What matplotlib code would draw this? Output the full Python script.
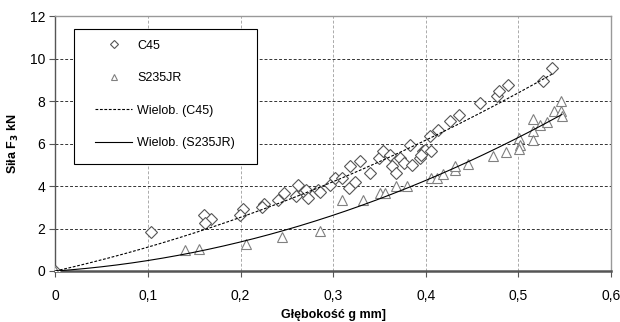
import numpy as np
import matplotlib.pyplot as plt
from matplotlib.patches import Rectangle
from matplotlib.ticker import FuncFormatter

plt.rcParams["font.family"] = ["Liberation Sans", "DejaVu Sans"]

# C45 measurements (depth g [mm], force F3 [kN])
c45_g = [0.0, 0.103, 0.160, 0.168, 0.162, 0.202, 0.199, 0.225, 0.223, 0.240,
         0.247, 0.262, 0.260, 0.268, 0.271, 0.273, 0.283, 0.286, 0.296, 0.302,
         0.309, 0.318, 0.317, 0.323, 0.329, 0.340, 0.349, 0.354, 0.361, 0.363,
         0.368, 0.372, 0.376, 0.383, 0.385, 0.394, 0.397, 0.404, 0.399, 0.406,
         0.395, 0.413, 0.426, 0.436, 0.458, 0.477, 0.479, 0.489, 0.527, 0.536]
c45_f = [0.0, 1.85, 2.64, 2.44, 2.25, 2.91, 2.64, 3.16, 3.00, 3.35,
         3.66, 4.03, 3.55, 3.74, 3.79, 3.43, 3.79, 3.74, 4.06, 4.37,
         4.37, 4.92, 3.90, 4.21, 5.16, 4.61, 5.32, 5.63, 5.47, 4.92,
         4.61, 5.32, 5.08, 5.94, 5.00, 5.32, 5.63, 6.34, 5.71, 5.63,
         5.47, 6.65, 7.04, 7.36, 7.91, 8.22, 8.46, 8.77, 8.93, 9.56]

# S235JR measurements
s235_g = [0.0, 0.140, 0.155, 0.206, 0.245, 0.286, 0.309, 0.332, 0.350, 0.356,
          0.368, 0.380, 0.406, 0.412, 0.419, 0.431, 0.431, 0.446, 0.473, 0.487,
          0.501, 0.502, 0.501, 0.516, 0.516, 0.516, 0.523, 0.531, 0.538, 0.546,
          0.546, 0.547]
s235_f = [0.0, 0.99, 1.02, 1.27, 1.59, 1.89, 3.32, 3.32, 3.69, 3.69,
          4.00, 4.00, 4.37, 4.37, 4.58, 4.76, 4.92, 5.05, 5.42, 5.58,
          6.26, 5.94, 5.74, 7.16, 6.57, 6.18, 6.85, 7.00, 7.51, 8.02,
          7.51, 7.31]

x_ticks = [0, 0.1, 0.2, 0.3, 0.4, 0.5, 0.6]
y_ticks = [0, 2, 4, 6, 8, 10, 12]

fig = plt.figure(figsize=(6.2, 3.22), dpi=100)
ax = fig.add_axes([0.0895, 0.1584, 0.896, 0.7916])

ax.plot(c45_g, c45_f, linestyle="none", marker="D", markersize=6,
        markerfacecolor="white", markeredgecolor="#555555", markeredgewidth=0.8,
        label="C45", zorder=3)
ax.plot(s235_g, s235_f, linestyle="none", marker="^", markersize=7,
        markerfacecolor="white", markeredgecolor="#808080", markeredgewidth=0.8,
        label="S235JR", zorder=3)


def poly_trend(g, f):
    # 2nd order polynomial trend with intercept fixed at zero
    g = np.asarray(g)
    A = np.column_stack([g ** 2, g])
    coef, *_ = np.linalg.lstsq(A, np.asarray(f), rcond=None)
    xs = np.linspace(0, g.max(), 200)
    return xs, coef[0] * xs ** 2 + coef[1] * xs


for g, f, ls, lab in [(c45_g, c45_f, (0, (2.5, 1.5)), "Wielob. (C45)"),
                      (s235_g, s235_f, "-", "Wielob. (S235JR)")]:
    xs, ys = poly_trend(g, f)
    ax.plot(xs, ys, color="black", linestyle=ls, linewidth=0.8, label=lab,
            zorder=4)

ax.set_xlim(0, 0.6)
ax.set_ylim(0, 12)
ax.set_xticks(x_ticks)
ax.set_yticks(y_ticks)
comma = FuncFormatter(lambda v, p: ("%g" % v).replace(".", ","))
ax.xaxis.set_major_formatter(comma)
ax.yaxis.set_major_formatter(comma)
ax.tick_params(axis="both", labelsize=10, length=4, width=0.8, color="#555555",
               direction="out")
ax.tick_params(axis="x", pad=9)

ax.yaxis.grid(True, linestyle=(0, (3, 2)), color="#333333", linewidth=0.7)
ax.xaxis.grid(True, linestyle=(0, (3, 2)), color="#aaaaaa", linewidth=0.7)
ax.set_axisbelow(True)

for s in ["top", "right"]:
    ax.spines[s].set_color("#999999")
    ax.spines[s].set_linewidth(1.0)
ax.spines["left"].set_color("#555555")
ax.spines["bottom"].set_color("#555555")
ax.spines["bottom"].set_linewidth(1.8)
ax.spines["left"].set_linewidth(1.0)

ax.set_xlabel("Głębokość g mm]", fontsize=9, fontweight="bold")
ax.xaxis.set_label_coords(0.5, -0.15)
ax.set_ylabel("Siła F$_\\mathbf{3}$ kN", fontsize=9, fontweight="bold", labelpad=6)

# legend box
box = Rectangle((0.0333, 0.4196), 0.3294, 0.5294, transform=ax.transAxes,
                facecolor="white", edgecolor="black", linewidth=0.8, zorder=5)
ax.add_patch(box)
leg = ax.legend(loc="upper left", bbox_to_anchor=(0.0711, 0.908),
                borderaxespad=0, borderpad=0, fontsize=9, handlelength=3.0,
                handletextpad=0.4, labelspacing=1.65, frameon=False,
                markerscale=0.7)
leg.set_zorder(6)

fig.savefig("out.png", dpi=100)
